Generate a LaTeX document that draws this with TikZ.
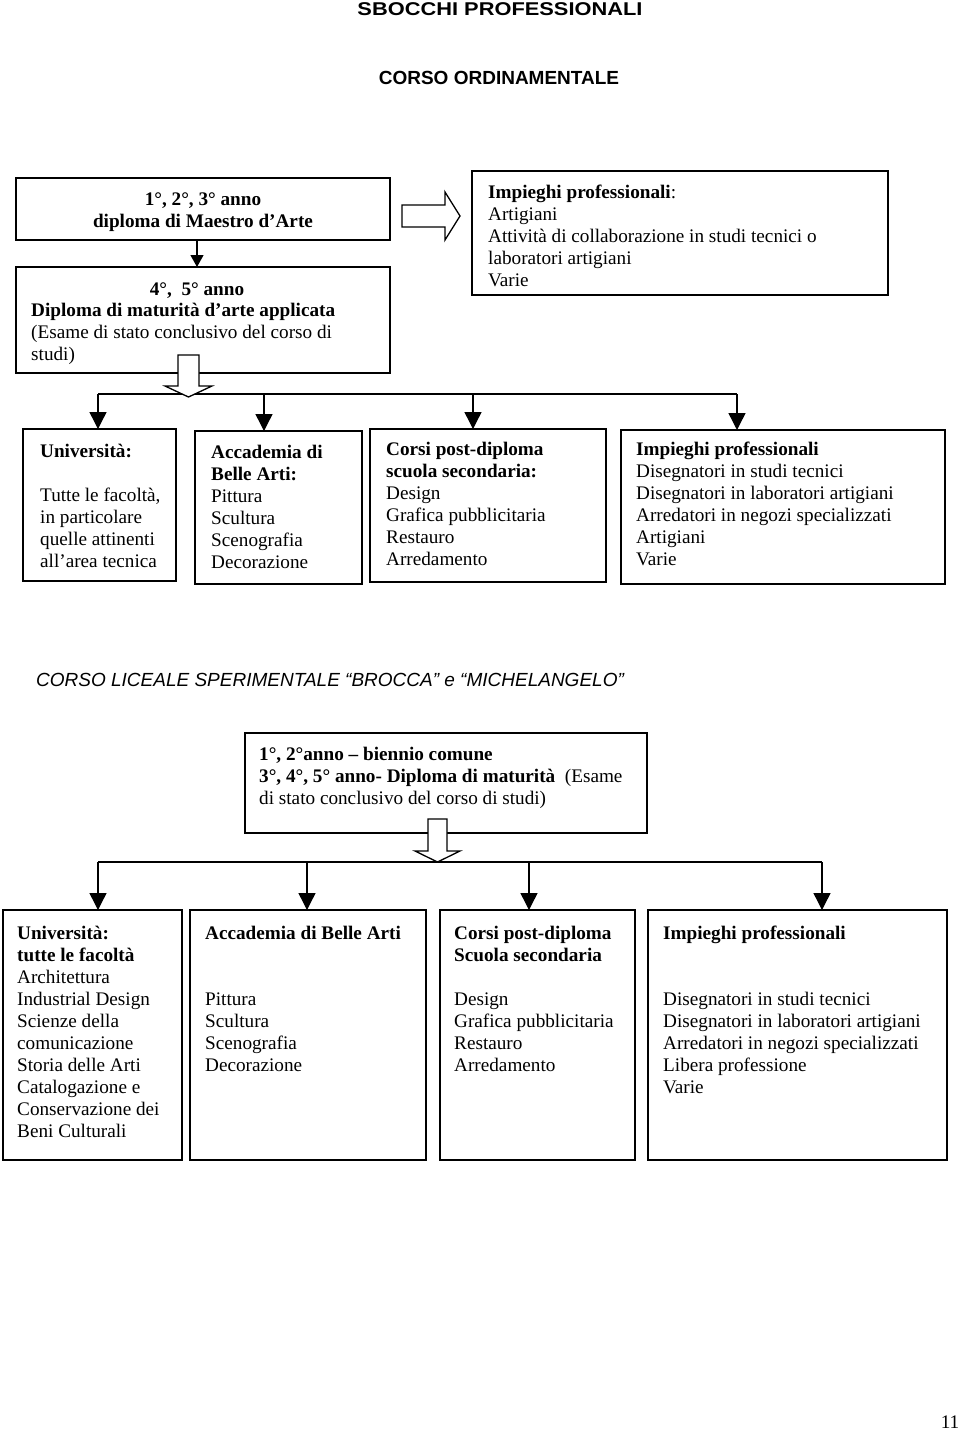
\documentclass[tikz,border=0pt]{standalone}
\usepackage{fontspec}
\usepackage{graphicx}
\setmainfont{Liberation Serif}
\newfontfamily\arialf{Liberation Sans}
\usetikzlibrary{arrows.meta,calc}
\newcommand{\bodyf}{\fontsize{19.2}{22}\selectfont}
\begin{document}
\begin{tikzpicture}[x=1pt,y=-1pt,
  box/.style={draw, line width=1.6pt, inner sep=0pt, outer sep=0pt, anchor=north west},
  txt/.style={anchor=north west, align=left, inner sep=0pt, font=\bodyf, execute at begin node={\rule{0pt}{14pt}}},
  busline/.style={line width=1.4pt},
  droparrow/.style={line width=1.4pt, -{Triangle[width=17pt,length=17pt]}},
  thinarrow/.style={line width=1.2pt, -{Triangle[width=13pt,length=12pt]}},
  blockarrow/.style={draw, fill=white, line width=1.3pt, line join=miter}
]
\useasboundingbox (0,0) rectangle (960,1433);
\fill[white] (0,0) rectangle (960,1433);

% titles
\node[font=\arialf\bfseries\fontsize{18.5}{20}\selectfont, inner sep=0pt] (t1) at (500,9) {\scalebox{1.18}[1]{SBOCCHI PROFESSIONALI}};
\node[font=\arialf\bfseries\fontsize{19}{22}\selectfont, inner sep=0pt] (t2) at (499,78) {CORSO ORDINAMENTALE};

% upper section boxes
\node[box, minimum width=374pt, minimum height=62pt] (box1) at (16,178) {};
\node[box, minimum width=374pt, minimum height=106pt] (box2) at (16,267) {};
\node[box, minimum width=416pt, minimum height=124pt] (box3) at (472,171) {};

\node[txt, anchor=north, align=center, font={\bodyf\bfseries}] (box1t) at ($(box1.north)+(0,15)$) {1°, 2°, 3° anno\\diploma di Maestro d’Arte};
\node[txt, anchor=north, font={\bodyf\bfseries}] (box2h) at ($(box2.north west)+(181,14)$) {4°,\ \ 5° anno};
\node[txt] (box2t) at ($(box2.north west)+(15,36)$) {\textbf{Diploma di maturità d’arte applicata}\\(Esame di stato conclusivo del corso di\\studi)};
\node[txt] (box3t) at ($(box3.north west)+(16,14)$) {\textbf{Impieghi professionali}:\\Artigiani\\Attività di collaborazione in studi tecnici o\\laboratori artigiani\\Varie};

% thin arrow box1 -> box2
\coordinate (ta) at (197,0);
\draw[thinarrow] (box1.south -| ta) -- (box2.north -| ta);

% block arrow right
\draw[blockarrow] (402,205) -- (445,205) -- (445,192) -- (460,216) -- (445,240) -- (445,227) -- (402,227) -- cycle;

% row boxes
\node[box, minimum width=153pt, minimum height=152pt] (r1) at (23,429) {};
\node[box, minimum width=167pt, minimum height=153pt] (r2) at (195,431) {};
\node[box, minimum width=236pt, minimum height=153pt] (r3) at (370,429) {};
\node[box, minimum width=324pt, minimum height=154pt] (r4) at (621,430) {};

\node[txt] (r1t) at ($(r1.north west)+(17,15)$) {\textbf{Università:}\\\mbox{}\\Tutte le facoltà,\\in particolare\\quelle attinenti\\all’area tecnica};
\node[txt] (r2t) at ($(r2.north west)+(16,14)$) {\textbf{Accademia di}\\\textbf{Belle Arti:}\\Pittura\\Scultura\\Scenografia\\Decorazione};
\node[txt] (r3t) at ($(r3.north west)+(16,13)$) {\textbf{Corsi post-diploma}\\\textbf{scuola secondaria:}\\Design\\Grafica pubblicitaria\\Restauro\\Arredamento};
\node[txt] (r4t) at ($(r4.north west)+(15,12)$) {\textbf{Impieghi professionali}\\Disegnatori in studi tecnici\\Disegnatori in laboratori artigiani\\Arredatori in negozi specializzati\\Artigiani\\Varie};

% upper bus
\coordinate (ua) at (98,394);
\coordinate (ub) at (264,394);
\coordinate (uc) at (473,394);
\coordinate (ud) at (737,394);
\draw[busline] (ua) -- (ud);
\draw[droparrow] (ua) -- (ua |- r1.north);
\draw[droparrow] (ub) -- (ub |- r2.north);
\draw[droparrow] (uc) -- (uc |- r3.north);
\draw[droparrow] (ud) -- (ud |- r4.north);

% block arrow down (upper)
\draw[blockarrow] (178,355) -- (199,355) -- (199,386) -- (212,386) -- (188.5,397) -- (165,386) -- (178,386) -- cycle;

% lower section
\node[font=\arialf\itshape\fontsize{19}{22}\selectfont, inner sep=0pt, anchor=west] (t3) at (36,680) {CORSO LICEALE SPERIMENTALE “BROCCA” e “MICHELANGELO”};

\node[box, minimum width=402pt, minimum height=100pt] (boxL) at (245,733) {};
\node[txt] (boxLt) at ($(boxL.north west)+(14,14)$) {\textbf{1°, 2°anno – biennio comune}\\\textbf{3°, 4°, 5° anno- Diploma di maturità}\ \ (Esame\\di stato conclusivo del corso di studi)};

\node[box, minimum width=179pt, minimum height=250pt] (s1) at (3,910) {};
\node[box, minimum width=236pt, minimum height=250pt] (s2) at (190,910) {};
\node[box, minimum width=195pt, minimum height=250pt] (s3) at (440,910) {};
\node[box, minimum width=299pt, minimum height=250pt] (s4) at (648,910) {};

\node[txt] (s1t) at ($(s1.north west)+(14,16)$) {\textbf{Università:}\\\textbf{tutte le facoltà}\\Architettura\\Industrial Design\\Scienze della\\comunicazione\\Storia delle Arti\\Catalogazione e\\Conservazione dei\\Beni Culturali};
\node[txt] (s2t) at ($(s2.north west)+(15,16)$) {\textbf{Accademia di Belle Arti}\\\mbox{}\\\mbox{}\\Pittura\\Scultura\\Scenografia\\Decorazione};
\node[txt] (s3t) at ($(s3.north west)+(14,16)$) {\textbf{Corsi post-diploma}\\\textbf{Scuola secondaria}\\\mbox{}\\Design\\Grafica pubblicitaria\\Restauro\\Arredamento};
\node[txt] (s4t) at ($(s4.north west)+(15,16)$) {\textbf{Impieghi professionali}\\\mbox{}\\\mbox{}\\Disegnatori in studi tecnici\\Disegnatori in laboratori artigiani\\Arredatori in negozi specializzati\\Libera professione\\Varie};

% lower bus
\coordinate (la) at (98,862);
\coordinate (lb) at (307,862);
\coordinate (lc) at (529,862);
\coordinate (ld) at (822,862);
\draw[busline] (la) -- (ld);
\draw[droparrow] (la) -- (la |- s1.north);
\draw[droparrow] (lb) -- (lb |- s2.north);
\draw[droparrow] (lc) -- (lc |- s3.north);
\draw[droparrow] (ld) -- (ld |- s4.north);

% block arrow down (lower)
\draw[blockarrow] (428,819) -- (447,819) -- (447,851) -- (460,851) -- (437.5,862) -- (415,851) -- (428,851) -- cycle;

% page number
\node[font=\bodyf, inner sep=0pt] (pg) at (950,1422) {11};
\end{tikzpicture}
\end{document}
